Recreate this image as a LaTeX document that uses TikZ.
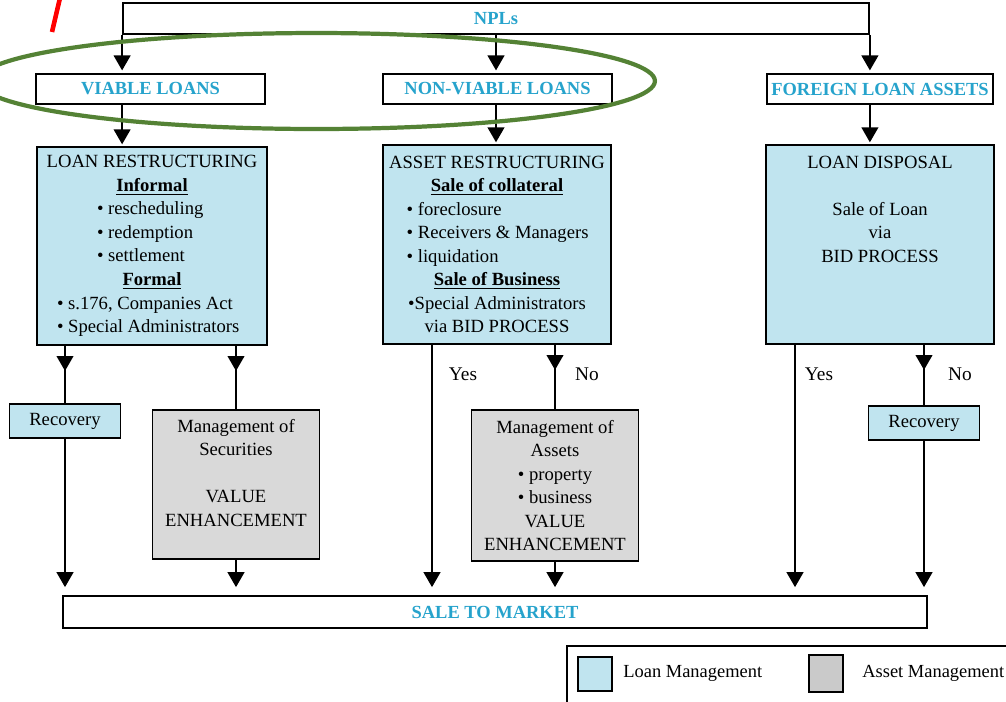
\documentclass[tikz,border=0pt]{standalone}
\usepackage{fontspec}
\setmainfont{Liberation Serif}
\usetikzlibrary{arrows.meta,decorations.markings}

\definecolor{loanblue}{RGB}{192,228,239}
\definecolor{assetgrey}{RGB}{217,217,217}
\definecolor{legendgrey}{RGB}{202,202,202}
\definecolor{titleblue}{RGB}{38,163,204}
\definecolor{ringgreen}{RGB}{84,130,53}

\newcommand{\bitem}[2][6em]{\makebox[#1][l]{\textbullet\ #2}}

\tikzset{
	box/.style={draw, line width=1.1pt, inner sep=0pt, align=center, font=\fontsize{10.6}{13.4}\selectfont},
	headbox/.style={box, fill=white, text=titleblue, font=\fontsize{10.5}{12}\selectfont\bfseries},
	loanbox/.style={box, fill=loanblue},
	assetbox/.style={box, fill=assetgrey},
	yesno/.style={font=\fontsize{11}{13}\selectfont},
	arr/.style={line width=1.1pt, -{Triangle[width=9.5pt,length=8.5pt]}},
	midarr/.style={line width=1.1pt, postaction={decorate},
		decoration={markings, mark=at position 5mm with {\arrow{Triangle[width=9.5pt,length=8.5pt]}}}}
}

\begin{document}
\begin{tikzpicture}[x=0.02cm,y=-0.02cm]
	\clip (0,0) rectangle (1006,701);
	%fejlec
	\node[headbox, minimum width=149.2mm, minimum height=6.2mm] (npl) at (496,18.5) {NPLs};
	\node[headbox, minimum width=45.8mm, minimum height=6mm] (viable) at (150.5,89) {VIABLE LOANS};
	\node[headbox, minimum width=45.8mm, minimum height=6mm] (nonviable) at (497.5,89) {NON-VIABLE LOANS};
	\node[headbox, minimum width=45.2mm, minimum height=6mm] (foreign) at (880,89) {FOREIGN LOAN ASSETS};

	%restrukturalas
	\node[loanbox, minimum width=46mm, minimum height=39.6mm] (lr) at (152,246) {LOAN RESTRUCTURING\\
		\underline{\textbf{Informal}}\\
		\bitem[5.9em]{rescheduling}\\
		\bitem[5.9em]{redemption}\\
		\bitem[5.9em]{settlement}\\
		\underline{\textbf{Formal}}\\
		\bitem[10.2em]{s.176, Companies Act}\\
		\bitem[10.2em]{Special Administrators}};
	\node[loanbox, minimum width=45.6mm, minimum height=39.8mm] (ar) at (497,244.5) {ASSET RESTRUCTURING\\
		\underline{\textbf{Sale of collateral}}\\
		\bitem[9.7em]{foreclosure}\\
		\bitem[9.7em]{Receivers \& Managers}\\
		\bitem[9.7em]{liquidation}\\
		\underline{\textbf{Sale of Business}}\\
		\textbullet Special Administrators\\
		via BID PROCESS};
	\node[loanbox, minimum width=45.6mm, minimum height=39.8mm] (disp) at (880,244.5) {LOAN DISPOSAL\\[\baselineskip]
		Sale of Loan\\via\\BID PROCESS\\[2\baselineskip]\mbox{}};

	%also sor
	\node[loanbox, minimum width=22.2mm, minimum height=6.8mm] (reca) at (65,421) {Recovery};
	\node[assetbox, minimum width=33.4mm, minimum height=29.8mm] (sec) at (236,484.5) {Management of\\Securities\\[\baselineskip]VALUE\\ENHANCEMENT\\\mbox{}};
	\node[assetbox, minimum width=33.4mm, minimum height=30.2mm] (ast) at (555,485.5) {Management of\\Assets\\\textbullet\ property\\\textbullet\ business\\VALUE\\ENHANCEMENT};
	\node[loanbox, minimum width=22.2mm, minimum height=6.8mm] (recb) at (924,423) {Recovery};
	\node[headbox, minimum width=172.8mm, minimum height=6.4mm] (sale) at (495,612) {SALE TO MARKET};

	\coordinate (yesa) at (432,0);
	\coordinate (yesb) at (795,0);
	\node[yesno] (yesalbl) at (463,374) {Yes};
	\node[yesno] (noalbl) at (587,374) {No};
	\node[yesno] (yesblbl) at (819,374) {Yes};
	\node[yesno] (noblbl) at (960,374) {No};

	%nyilak
	\draw[arr, shorten >=1.5pt] (npl.south west) -- (viable.north -| npl.south west);
	\draw[arr, shorten >=1.5pt] (npl.south) -- (nonviable.north -| npl.south);
	\draw[arr, shorten >=1.5pt] (npl.south east) -- (foreign.north -| npl.south east);
	\draw[arr, shorten >=1pt] (viable.south -| npl.south west) -- (lr.north -| npl.south west);
	\draw[arr, shorten >=1pt] (nonviable.south -| npl.south) -- (ar.north -| npl.south);
	\draw[arr, shorten >=1pt] (foreign.south -| npl.south east) -- (disp.north -| npl.south east);

	\draw[midarr] (lr.south -| reca.north) -- (reca.north);
	\draw[midarr] (lr.south -| sec.north) -- (sec.north);
	\draw[midarr] (ar.south -| ast.north) -- (ast.north);
	\draw[midarr] (disp.south -| recb.north) -- (recb.north);

	\draw[arr, shorten >=4.5pt] (reca.south) -- (sale.north -| reca.south);
	\draw[arr, shorten >=4.5pt] (sec.south) -- (sale.north -| sec.south);
	\draw[arr, shorten >=4.5pt] (ar.south -| yesa) -- (sale.north -| yesa);
	\draw[arr, shorten >=4.5pt] (ast.south) -- (sale.north -| ast.south);
	\draw[arr, shorten >=4.5pt] (disp.south -| yesb) -- (sale.north -| yesb);
	\draw[arr, shorten >=4.5pt] (recb.south) -- (sale.north -| recb.south);

	%jelmagyarazat
	\draw[line width=1.1pt] (567,730) -- (567,646) -- (1030,646);
	\node[draw, line width=1.1pt, fill=loanblue, minimum size=6.8mm, inner sep=0pt] (lgloan) at (595,674) {};
	\node[anchor=west, inner sep=0pt, font=\fontsize{10.5}{12}\selectfont] (lgloantxt) at (623,673) {Loan Management};
	\node[draw, line width=1.1pt, fill=legendgrey, minimum width=6.8mm, minimum height=7.4mm, inner sep=0pt] (lgasset) at (826,673.5) {};
	\node[anchor=west, inner sep=0pt, font=\fontsize{10.5}{12}\selectfont] (lgassettxt) at (862,673) {Asset Management};

	%kiemeles
	\draw[ringgreen, line width=2.4pt] (316.5,81) ellipse [x radius=67.7mm, y radius=9.6mm];
	\draw[red, line width=2.6pt] (60,-2) -- (52,32);
\end{tikzpicture}
\end{document}
